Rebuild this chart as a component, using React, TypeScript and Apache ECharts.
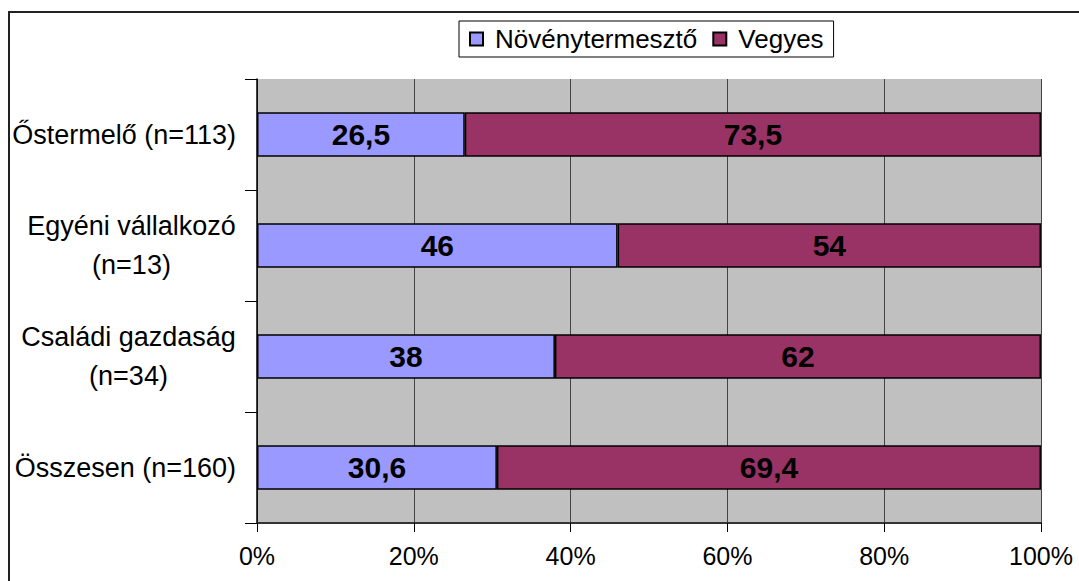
import React, { useEffect, useRef } from "react";
import * as echarts from "echarts";

const categories = ["Őstermelő (n=113)", "Egyéni vállalkozó\n(n=13)", "Családi gazdaság\n(n=34)", "Összesen (n=160)"];
const seriesNames = ["Növénytermesztő", "Vegyes"];
const novenyValues = [26.5, 46, 38, 30.6];
const vegyesValues = [73.5, 54, 62, 69.4];
const xTicks = [0, 20, 40, 60, 80, 100];

const FONT = "'Liberation Sans', Arial, sans-serif";

export default function App() {
  const ref = useRef<HTMLDivElement>(null);
  useEffect(() => {
    if (!ref.current) return;
    const chart = echarts.init(ref.current, undefined, { renderer: "svg" });
    const label = {
      show: true,
      position: "inside",
      color: "#000",
      fontWeight: "bold",
      fontSize: 30,
      fontFamily: FONT,
      formatter: (p: any) => String(p.value).replace(".", ","),
    };
    chart.setOption({
      animation: false,
      backgroundColor: "#fff",
      textStyle: { fontFamily: FONT },
      graphic: [
        {
          type: "rect",
          shape: { x: 9, y: 12, width: 1200, height: 700 },
          style: { fill: "none", stroke: "#222", lineWidth: 2 },
          silent: true,
          z: -1,
        },
      ],
      legend: {
        data: seriesNames,
        left: 459,
        top: 21,
        orient: "horizontal",
        borderColor: "#000",
        borderWidth: 1,
        padding: [5, 10, 5, 10],
        itemGap: 15,
        itemWidth: 13,
        itemHeight: 13,
        icon: "rect",
        textStyle: { fontSize: 26, color: "#000", fontFamily: FONT, padding: [0, 0, 0, 7] },
      },
      grid: {
        left: 257,
        top: 79,
        right: 38,
        bottom: 58,
        show: true,
        backgroundColor: "#c0c0c0",
        borderWidth: 0,
      },
      xAxis: {
        type: "value",
        min: 0,
        max: 100,
        interval: 20,
        axisLine: { show: true, lineStyle: { color: "#333", width: 2 } },
        axisTick: { show: true, length: 9, lineStyle: { color: "#000" } },
        axisLabel: {
          color: "#000",
          fontSize: 25,
          fontFamily: FONT,
          margin: 20,
          formatter: (v: number) => (xTicks.includes(v) ? v + "%" : ""),
        },
        splitLine: { show: true, lineStyle: { color: "#444", width: 1 } },
      },
      yAxis: {
        type: "category",
        data: categories,
        inverse: true,
        axisLine: { show: true, lineStyle: { color: "#000", width: 1.5 } },
        axisTick: { show: true, length: 12, lineStyle: { color: "#000" } },
        axisLabel: {
          color: "#000",
          fontSize: 27,
          fontFamily: FONT,
          margin: 21,
          lineHeight: 39,
          formatter: (v: string, i: number) => {
            if (v.includes("\n")) {
              const [a, b] = v.split("\n");
              const s = i === 1 ? "a" : "b";
              return `{${s}|${a}}\n{${s}|${b}}`;
            }
            return v;
          },
          rich: {
            a: { width: 209, align: "center", fontSize: 27, fontFamily: FONT, color: "#000", lineHeight: 39 },
            b: { width: 215, align: "center", fontSize: 27, fontFamily: FONT, color: "#000", lineHeight: 39 },
          },
        },
        splitLine: { show: false },
      },
      series: [
        {
          name: seriesNames[0],
          type: "bar",
          stack: "total",
          data: novenyValues,
          barWidth: "40%",
          itemStyle: { color: "#9999ff", borderColor: "#000", borderWidth: 1.5 },
          label,
        },
        {
          name: seriesNames[1],
          type: "bar",
          stack: "total",
          data: vegyesValues,
          barWidth: "40%",
          itemStyle: { color: "#993366", borderColor: "#000", borderWidth: 1.5 },
          label,
        },
      ],
    });
    return () => chart.dispose();
  }, []);
  return <div ref={ref} style={{ width: 1079, height: 581, position: "absolute", left: 0, top: 0 }} />;
}
